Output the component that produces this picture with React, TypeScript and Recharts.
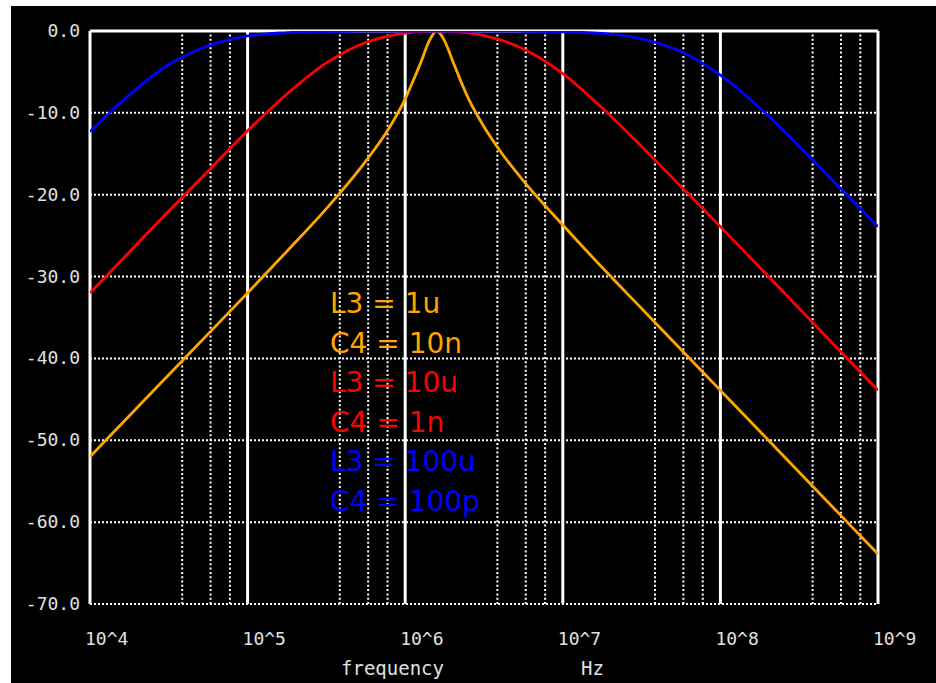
import { LineChart, Line, XAxis, YAxis, ReferenceLine } from "recharts";

// frequency points as powers of ten (10^e Hz)
const exponents = [4, 4.25, 4.5, 4.75, 5, 5.25, 5.5, 5.75, 5.9, 6, 6.05, 6.1, 6.15, 6.2, 6.25, 6.3, 6.35, 6.4, 6.5, 6.6, 6.75, 7, 7.25, 7.5, 7.75, 8, 8.25, 8.5, 8.75, 9];

// L3 = 1u, C4 = 10n
const orangeDb = [-52.0, -47.0, -42.0, -37.0, -32.0, -26.9, -21.7, -15.9, -11.8, -8.3, -6.1, -3.8, -1.3, 0, -1.2, -3.6, -6.0, -8.2, -11.7, -14.6, -18.3, -23.7, -28.9, -33.9, -38.9, -43.9, -48.9, -53.9, -58.9, -63.9];
// L3 = 10u, C4 = 1n
const redDb = [-32.0, -27.0, -22.0, -17.1, -12.2, -7.7, -3.9, -1.4, -0.6, -0.25, -0.13, -0.06, -0.02, 0, -0.01, -0.06, -0.13, -0.24, -0.56, -1.06, -2.2, -5.2, -9.4, -14.1, -19.0, -23.9, -28.9, -33.9, -38.9, -43.9];
// L3 = 100u, C4 = 100p
const blueDb = [-12.3, -7.8, -4.1, -1.8, -0.6, -0.2, -0.06, -0.02, 0, 0, 0, 0, 0, 0, 0, 0, 0, 0, 0, 0, -0.03, -0.1, -0.3, -0.95, -2.5, -5.4, -9.4, -14.1, -19.0, -23.9];

const decadeTicks = [4, 5, 6, 7, 8, 9];
const minorFractions = [0.585, 0.765, 0.888];
const yTicks = [0, -10, -20, -30, -40, -50, -60, -70];

const legend = [
  { text: "L3 = 1u", color: "#ffa500" },
  { text: "C4 = 10n", color: "#ffa500" },
  { text: "L3 = 10u", color: "#ff0000" },
  { text: "C4 = 1n", color: "#ff0000" },
  { text: "L3 = 100u", color: "#0000ff" },
  { text: "C4 = 100p", color: "#0000ff" },
];

const data = exponents.map((e, i) => ({
  f: Math.pow(10, e),
  orange: orangeDb[i],
  red: redDb[i],
  blue: blueDb[i],
}));

const minorLines: number[] = [];
decadeTicks.slice(0, -1).forEach((d) => {
  minorFractions.forEach((m) => minorLines.push(Math.pow(10, d + m)));
});

const mono = "'DejaVu Sans Mono', monospace";
const axisColor = "#e0e0e0";

function XTick(props: any) {
  const { x, y, payload } = props;
  const exp = Math.round(Math.log10(payload.value));
  return (
    <text x={x - 5} y={y + 33} fill={axisColor} fontFamily={mono} fontSize={18} textAnchor="start">
      {`10^${exp}`}
    </text>
  );
}

function YTick(props: any) {
  const { y, payload } = props;
  return (
    <text x={69} y={y + 6} fill={axisColor} fontFamily={mono} fontSize={18} textAnchor="end">
      {payload.value.toFixed(1)}
    </text>
  );
}

export default function App() {
  return (
    <div style={{ position: "absolute", left: 11, top: 6, width: 925, height: 677, background: "#000" }}>
      <LineChart width={925} height={677} data={data} margin={{ top: 25, right: 58, bottom: 0, left: 0 }}>
        <XAxis
          dataKey="f"
          type="number"
          scale="log"
          domain={[1e4, 1e9]}
          ticks={decadeTicks.map((d) => Math.pow(10, d))}
          axisLine={false}
          tickLine={false}
          height={79}
          tick={<XTick />}
          allowDataOverflow
        />
        <YAxis
          type="number"
          domain={[-70, 0]}
          ticks={yTicks}
          axisLine={false}
          tickLine={false}
          width={79}
          tick={<YTick />}
          allowDataOverflow
        />
        {yTicks.map((v) => (
          <ReferenceLine
            key={`h${v}`}
            y={v}
            stroke="#fff"
            strokeWidth={v === 0 ? 3 : 2}
            strokeDasharray={v === 0 ? undefined : "2 2"}
          />
        ))}
        {minorLines.map((f) => (
          <ReferenceLine key={`m${f}`} x={f} stroke="#fff" strokeWidth={2} strokeDasharray="2 2.3" />
        ))}
        {decadeTicks.map((d) => (
          <ReferenceLine key={`d${d}`} x={Math.pow(10, d)} stroke="#fff" strokeWidth={3} />
        ))}
        <Line dataKey="orange" stroke="#ffa500" strokeWidth={2.8} dot={false} isAnimationActive={false} type="monotone" />
        <Line dataKey="red" stroke="#ff0000" strokeWidth={2.8} dot={false} isAnimationActive={false} type="monotone" />
        <Line dataKey="blue" stroke="#0000ff" strokeWidth={2.8} dot={false} isAnimationActive={false} type="monotone" />
      </LineChart>
      <svg width={925} height={677} style={{ position: "absolute", left: 0, top: 0, pointerEvents: "none" }}>
        {legend.map((l, i) => (
          <text key={i} x={319} y={307 + i * 39.5} fill={l.color} fontFamily="'DejaVu Sans', sans-serif" fontSize={28}>
            {l.text}
          </text>
        ))}
        <text x={330} y={669} fill={axisColor} fontFamily={mono} fontSize={19}>frequency</text>
        <text x={570} y={669} fill={axisColor} fontFamily={mono} fontSize={19}>Hz</text>
      </svg>
    </div>
  );
}
